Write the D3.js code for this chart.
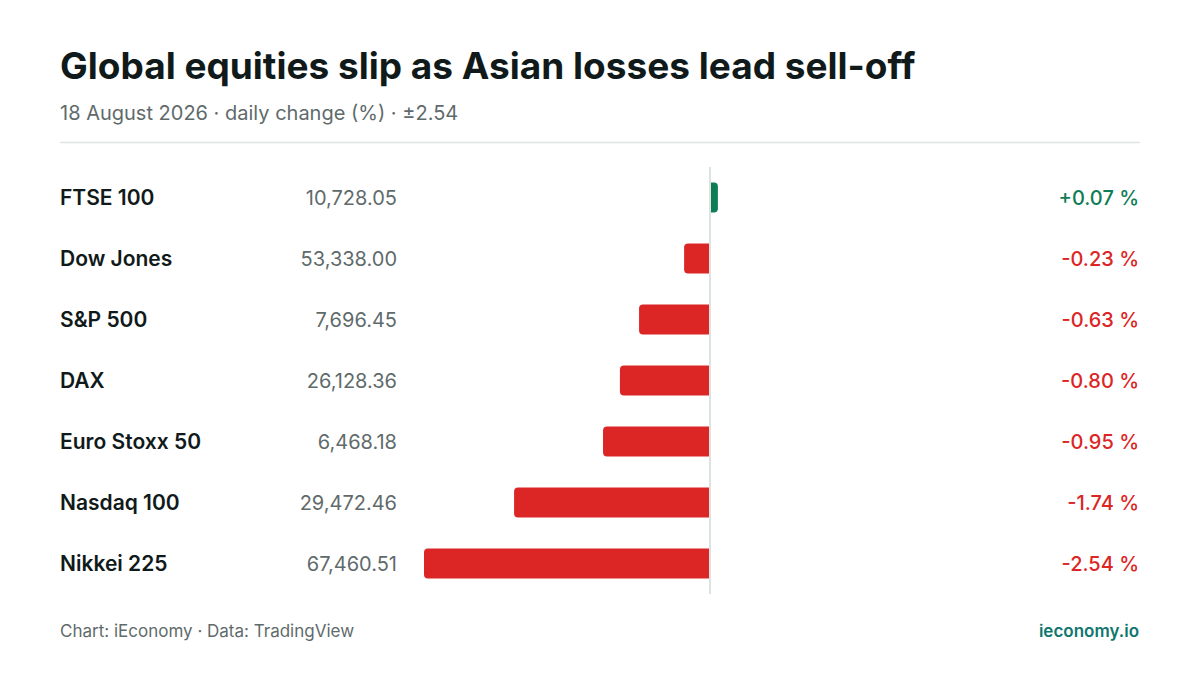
<!DOCTYPE html>
<html><head><meta charset="utf-8">
<script src="https://cdn.jsdelivr.net/npm/d3@7"></script>
<style>html,body{margin:0;padding:0;background:#fff;}svg{display:block;font-family:Inter,"Noto Sans",sans-serif;font-optical-sizing:none;}</style>
</head><body>
<svg id="c" width="1200" height="675"></svg>
<script>
const indices = ["FTSE 100","Dow Jones","S&P 500","DAX","Euro Stoxx 50","Nasdaq 100","Nikkei 225"];
const levels = ["10,728.05","53,338.00","7,696.45","26,128.36","6,468.18","29,472.46","67,460.51"];
const changes = [0.07,-0.23,-0.63,-0.80,-0.95,-1.74,-2.54];
const changeLabels = ["+0.07 %","-0.23 %","-0.63 %","-0.80 %","-0.95 %","-1.74 %","-2.54 %"];
const extent = 2.54;

const svg = d3.select("#c");
const W = 1200, H = 675;
const green = "#0e7c55", red = "#dc2626", dark = "#111a1a", grey = "#5f6b6b";

svg.append("text").attr("x",60).attr("y",79).attr("font-size",37).attr("font-weight",700)
  .attr("fill",dark).text("Global equities slip as Asian losses lead sell-off");
svg.append("text").attr("x",60).attr("y",120).attr("font-size",20).attr("fill",grey)
  .text("18 August 2026 · daily change (%) · ±2.54");
svg.append("line").attr("x1",60).attr("x2",1140).attr("y1",142.5).attr("y2",142.5)
  .attr("stroke","#dfe4e4").attr("stroke-width",1.5);

const x = d3.scaleLinear().domain([-extent, extent]).range([424, 996]);
const y = d3.scaleBand().domain(indices).range([167, 594]);
const bh = 30, r = 4;

const rows = indices.map((n,i)=>({name:n, level:levels[i], v:changes[i], label:changeLabels[i]}));

svg.append("g").selectAll("text").data(rows).join("text")
  .attr("x",60).attr("y",d=>y(d.name)+y.bandwidth()/2).attr("dy","0.35em")
  .attr("font-size",21).attr("font-weight",600).attr("fill",dark).text(d=>d.name);
svg.append("g").selectAll("text").data(rows).join("text")
  .attr("x",397).attr("y",d=>y(d.name)+y.bandwidth()/2).attr("dy","0.35em").attr("text-anchor","end")
  .attr("font-size",20).attr("fill",grey).text(d=>d.level);

function barPath(d){
  const x0 = x(0), x1 = x(d.v);
  const t = y(d.name)+(y.bandwidth()-bh)/2, b = t+bh;
  const rr = Math.min(r, Math.abs(x1-x0));
  if (d.v >= 0) {
    return `M${x0},${t}H${x1-rr}Q${x1},${t} ${x1},${t+rr}V${b-rr}Q${x1},${b} ${x1-rr},${b}H${x0}Z`;
  } else {
    return `M${x0},${t}H${x1+rr}Q${x1},${t} ${x1},${t+rr}V${b-rr}Q${x1},${b} ${x1+rr},${b}H${x0}Z`;
  }
}
svg.append("g").selectAll("path").data(rows).join("path")
  .attr("d",barPath).attr("fill",d=>d.v>=0?green:red);

svg.append("line").attr("x1",x(0)).attr("x2",x(0)).attr("y1",167).attr("y2",594)
  .attr("stroke","#dde3e3").attr("stroke-width",2);

svg.append("g").selectAll("text").data(rows).join("text")
  .attr("x",1139).attr("y",d=>y(d.name)+y.bandwidth()/2).attr("dy","0.35em").attr("text-anchor","end")
  .attr("font-size",20).attr("font-weight",500).attr("fill",d=>d.v>=0?green:red).text(d=>d.label);

svg.append("text").attr("x",60).attr("y",637).attr("font-size",17).attr("fill",grey)
  .text("Chart: iEconomy · Data: TradingView");
svg.append("text").attr("x",1139).attr("y",637).attr("text-anchor","end").attr("font-size",17)
  .attr("font-weight",600).attr("fill","#0f766e").text("ieconomy.io");
</script>
</body></html>
